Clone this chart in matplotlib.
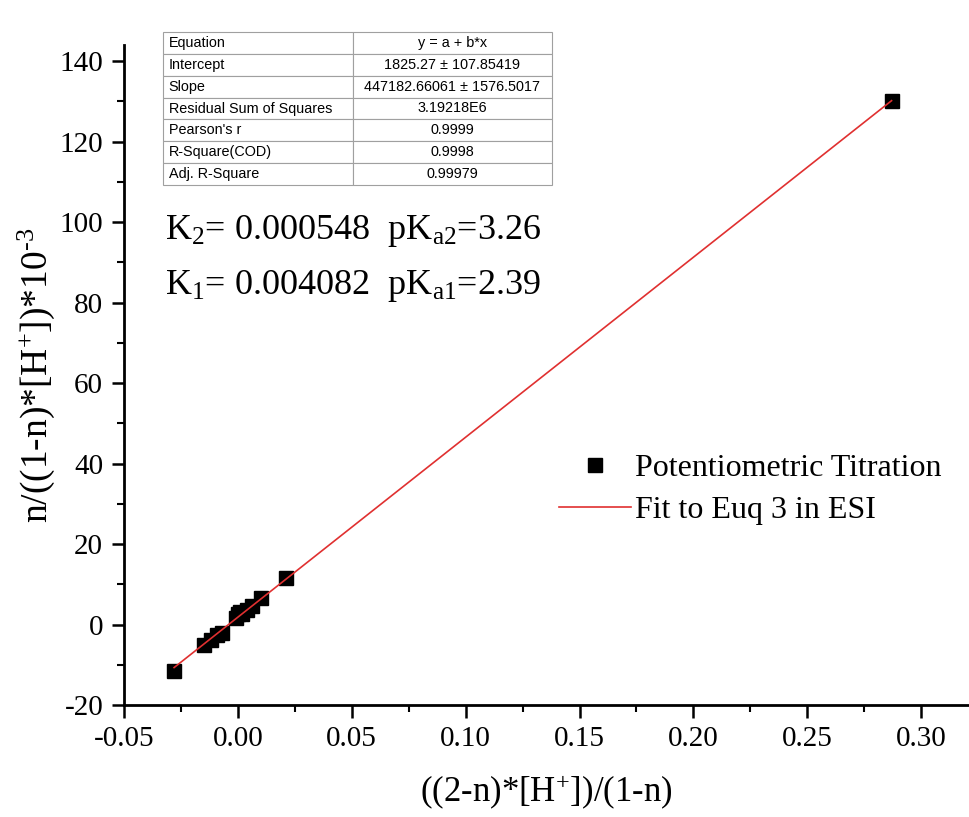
import numpy as np
import matplotlib.pyplot as plt
from matplotlib.ticker import MultipleLocator

plt.rcParams['font.family'] = ['Liberation Serif', 'DejaVu Serif']
plt.rcParams['mathtext.fontset'] = 'custom'
plt.rcParams['mathtext.rm'] = 'Liberation Serif'
plt.rcParams['mathtext.it'] = 'Liberation Serif:italic'
plt.rcParams['axes.unicode_minus'] = False

# data
x_data = [-0.028, -0.015, -0.012, -0.009, -0.007, -0.001, 0.0, 0.001, 0.002,
          0.004, 0.006, 0.010, 0.021, 0.287]
y_data = [-11.5, -5.0, -3.8, -2.6, -2.0, 1.5, 2.5, 3.0, 2.6,
          3.6, 4.6, 6.5, 11.5, 130.0]

intercept = 1825.27
slope = 447182.66061

table_rows = [
    ["Equation", "y = a + b*x"],
    ["Intercept", "1825.27 \u00b1 107.85419"],
    ["Slope", "447182.66061 \u00b1 1576.5017"],
    ["Residual Sum of Squares", "3.19218E6"],
    ["Pearson's r", "0.9999"],
    ["R-Square(COD)", "0.9998"],
    ["Adj. R-Square", "0.99979"],
]

fig = plt.figure(figsize=(9.69, 8.17), dpi=100)
ax = fig.add_axes([124 / 969, 112 / 817, 845 / 969, 660 / 817])

ax.plot(x_data, y_data, 's', color='black', markersize=10,
        label='Potentiometric Titration', zorder=3)
xf = np.array([min(x_data), max(x_data)])
ax.plot(xf, (intercept + slope * xf) / 1000, color='#e03030', lw=1.2,
        label='Fit to Euq 3 in ESI', zorder=4)

ax.set_xlim(-0.05, 0.321)
ax.set_ylim(-20, 144)
ax.xaxis.set_major_locator(MultipleLocator(0.05))
ax.xaxis.set_minor_locator(MultipleLocator(0.025))
ax.yaxis.set_major_locator(MultipleLocator(20))
ax.yaxis.set_minor_locator(MultipleLocator(10))
ax.xaxis.set_major_formatter(lambda v, p: f"{v:.2f}")
ax.tick_params(which='major', direction='out', length=9, width=1.8,
               labelsize=21, pad=6)
ax.tick_params(which='minor', direction='out', length=5, width=1.5)
for s in ['top', 'right']:
    ax.spines[s].set_visible(False)
for s in ['left', 'bottom']:
    ax.spines[s].set_linewidth(2)

ax.set_xlabel('((2-n)*[H$^{\\mathrm{+}}$])/(1-n)', fontsize=25, labelpad=15)
ax.set_ylabel('n/((1-n)*[H$^{\\mathrm{+}}$])*10$^{\u2010\\mathrm{3}}$', fontsize=27,
              labelpad=2)

ax.text(0.048, 0.706, r'K$_{\mathrm{2}}$= 0.000548  pK$_{\mathrm{a2}}$=3.26',
        transform=ax.transAxes, fontsize=26)
ax.text(0.048, 0.623, r'K$_{\mathrm{1}}$= 0.004082  pK$_{\mathrm{a1}}$=2.39',
        transform=ax.transAxes, fontsize=26)

leg = ax.legend(loc='upper left', bbox_to_anchor=(0.50, 0.40), frameon=False,
                fontsize=23, handlelength=2.25, handletextpad=0.12,
                labelspacing=0.4, borderaxespad=0)

tbl = ax.table(cellText=table_rows, colWidths=[190, 199],
               bbox=[39 / 845, 520 / 660, 389 / 845, 153 / 660])
tbl.auto_set_font_size(False)
tbl.set_fontsize(10.4)
for (r, c), cell in tbl.get_celld().items():
    cell.set_edgecolor('#a0a0a0')
    cell.set_linewidth(0.8)
    cell.get_text().set_fontfamily('Liberation Sans')
    if c == 0:
        cell.get_text().set_ha('left')
        cell.PAD = 0.03
    else:
        cell.get_text().set_ha('center')

fig.savefig('out.png', dpi=100)
